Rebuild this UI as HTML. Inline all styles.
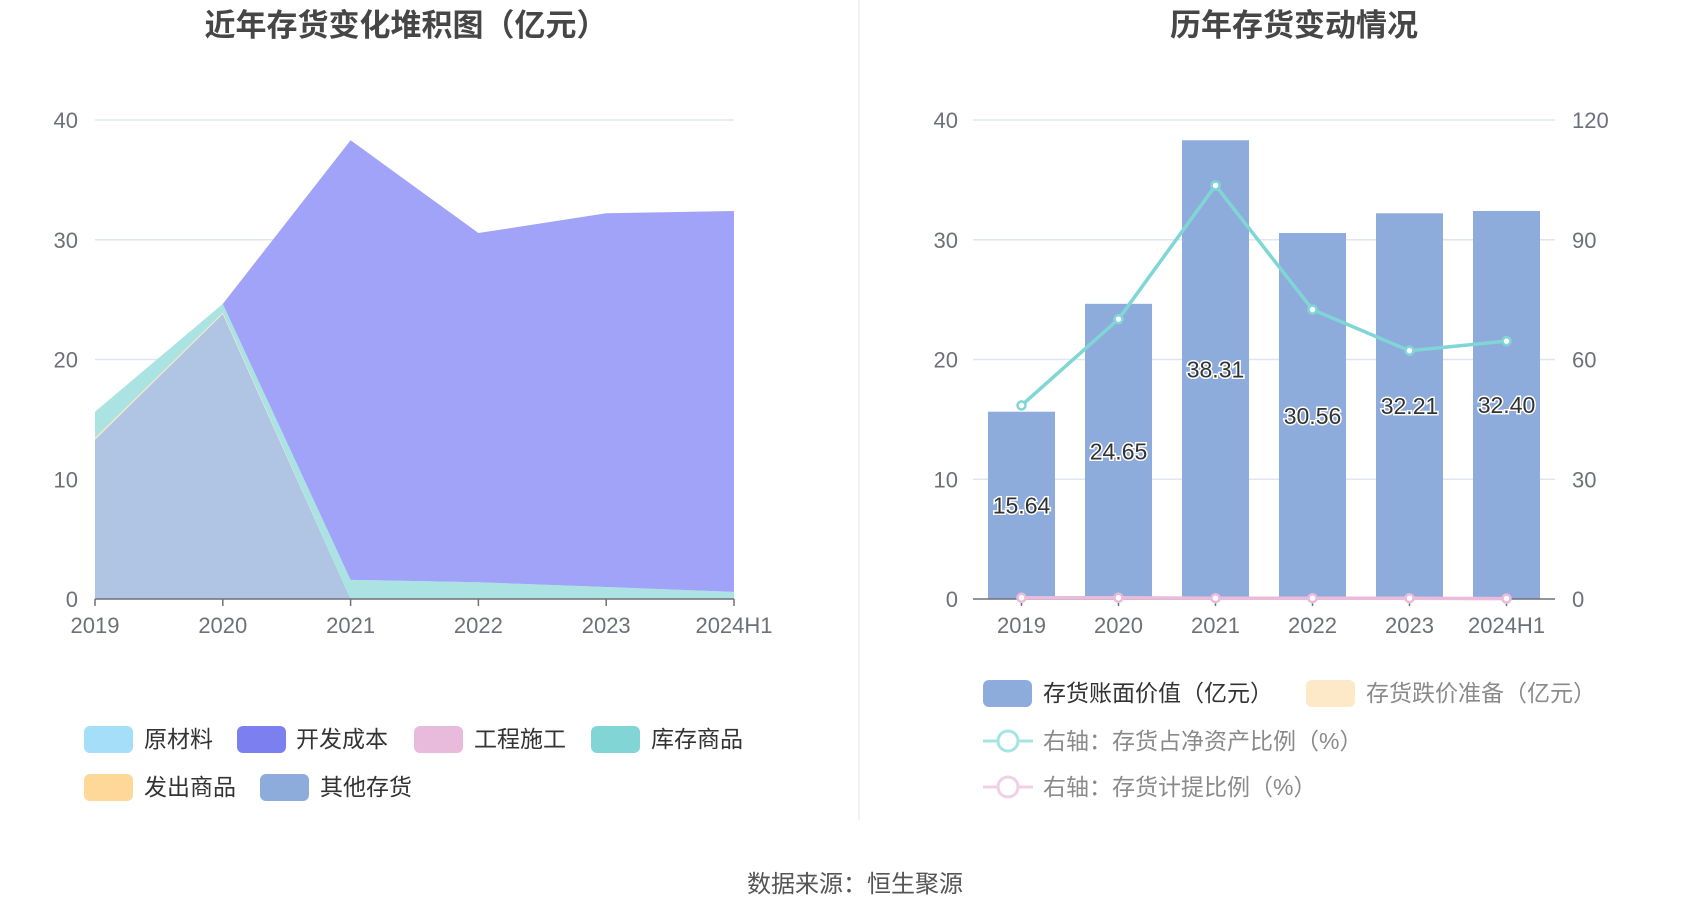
<!DOCTYPE html>
<html><head><meta charset="utf-8"><style>
body{margin:0;background:#fff;}
svg{display:block;font-family:"Liberation Sans","Noto Sans CJK SC",sans-serif;}
</style></head><body>
<svg id="c" width="1700" height="918" viewBox="0 0 1700 918">
<text x="406" y="36" text-anchor="middle" font-size="31" font-weight="bold" fill="#464646">近年存货变化堆积图（亿元）</text>
<text x="1294" y="36" text-anchor="middle" font-size="31" font-weight="bold" fill="#464646">历年存货变动情况</text>
<line x1="859" y1="0" x2="859" y2="820" stroke="#eeeeee" stroke-width="1.5"/>
<g id="left"></g>
<g id="right"></g>
<text x="855" y="892" text-anchor="middle" font-size="24" fill="#555">数据来源：恒生聚源</text>
</svg>
<script>
const categories=["2019","2020","2021","2022","2023","2024H1"];
const otherInv=[13.3,23.8,0,0,0,0];
const shipped=[0.15,0.1,0,0,0,0];
const stockGoods=[2.19,0.75,1.6,1.4,1.0,0.6];
const devCost=[0,0,36.71,29.16,31.21,31.8];
const leftTicks=[0,10,20,30,40];
const bookValue=[15.64,24.65,38.31,30.56,32.21,32.40];
const invRatio=[48.5,70.1,103.6,72.5,62.2,64.6];
const provRatio=[0.3,0.3,0.2,0.2,0.2,0.1];
const rightTicks=[0,30,60,90,120];
const NS="http://www.w3.org/2000/svg";
function mk(p,t,a){const e=document.createElementNS(NS,t);for(const k in a)e.setAttribute(k,a[k]);p.appendChild(e);return e;}
// left chart
const L=document.getElementById('left');
const lx=i=>95+i*(734-95)/5, ly=v=>599-v*(599-120)/40;
leftTicks.forEach(t=>{
 if(t>0){const g=mk(L,'line',{x1:95,x2:734,y1:ly(t),y2:ly(t),stroke:'#e0e6f1','stroke-width':1.5});
 
 }
 const tx=mk(L,'text',{x:78,y:ly(t)+8,'text-anchor':'end','font-size':22,fill:'#6e7079'});tx.textContent=t;
 
 
});
const layers=[[otherInv,'#b0c4e4','other-inventory-area'],[shipped,'#fde6b8','shipped-goods-area'],[stockGoods,'#abe3e3','stock-goods-area'],[devCost,'#a0a3f8','dev-cost-area']];
let base=categories.map(()=>0);
layers.forEach(([arr,col,nm])=>{
 const top=base.map((b,i)=>b+arr[i]);
 let d='M'+top.map((v,i)=>lx(i)+','+ly(v)).join('L');
 for(let i=base.length-1;i>=0;i--)d+='L'+lx(i)+','+ly(base[i]);
 const p=mk(L,'path',{d:d+'Z',fill:col});
 
 
 base=top;
});
mk(L,'line',{x1:95,x2:734,y1:599,y2:599,stroke:'#6e7079','stroke-width':1.5});
categories.forEach((c,i)=>{
 mk(L,'line',{x1:lx(i),x2:lx(i),y1:599,y2:606,stroke:'#6e7079','stroke-width':1.5});
 const t=mk(L,'text',{x:lx(i),y:633,'text-anchor':'middle','font-size':22,fill:'#6e7079'});t.textContent=c;
 
 
});
const lleg=[['原材料','#a5def8',84,144,739],['开发成本','#7b7ff0',237,296,739],['工程施工','#e8bbdc',414,474,739],['库存商品','#82d5d5',591,651,739],['发出商品','#fdd898',84,144,787],['其他存货','#8eacdb',260,320,787]];
lleg.forEach(([n,c,sx,tx,y])=>{
 const g=mk(L,'g',{});
 
 
 mk(g,'rect',{x:sx,y:y-13,width:49,height:27,rx:6,fill:c});
 const t=mk(g,'text',{x:tx,y:y+8,'font-size':23,fill:'#333'});t.textContent=n;
});
// right chart
const R=document.getElementById('right');
const bw=(1555-973)/6, rx=i=>973+bw*(i+0.5), ry=v=>599-v*(599-120)/40, ry2=v=>599-v*(599-120)/120;
rightTicks.forEach((t,k)=>{
 const v=leftTicks[k];
 if(k>0){const g=mk(R,'line',{x1:973,x2:1555,y1:ry(v),y2:ry(v),stroke:'#e0e6f1','stroke-width':1.5});
 
 }
 const a=mk(R,'text',{x:958,y:ry(v)+8,'text-anchor':'end','font-size':22,fill:'#6e7079'});a.textContent=v;
 
 
 const b=mk(R,'text',{x:1572,y:ry2(t)+8,'font-size':22,fill:'#6e7079'});b.textContent=t;
 
 
});
bookValue.forEach((v,i)=>{
 const r=mk(R,'rect',{x:rx(i)-33.5,y:ry(v),width:67,height:599-ry(v),fill:'#8eacdb'});
 
 
});
mk(R,'line',{x1:973,x2:1555,y1:599,y2:599,stroke:'#6e7079','stroke-width':1.5});
categories.forEach((c,i)=>{
 mk(R,'line',{x1:rx(i),x2:rx(i),y1:599,y2:606,stroke:'#6e7079','stroke-width':1.5});
 const t=mk(R,'text',{x:rx(i),y:633,'text-anchor':'middle','font-size':22,fill:'#6e7079'});t.textContent=c;
 
 
});
[[invRatio,'#80d5d5','inventory-ratio-line'],[provRatio,'#ebbbdc','provision-ratio-line']].forEach(([arr,col,nm])=>{
 const p=mk(R,'polyline',{points:arr.map((v,i)=>rx(i)+','+ry2(v)).join(' '),fill:'none',stroke:col,'stroke-width':3.5});
 
 
 arr.forEach((v,i)=>{
  const c=mk(R,'circle',{cx:rx(i),cy:ry2(v),r:4,fill:'#fff',stroke:col,'stroke-width':2.5});
  
  
 });
});
bookValue.forEach((v,i)=>{
 const t=mk(R,'text',{x:rx(i),y:ry(v/2)+8,'text-anchor':'middle','font-size':23,fill:'#333',stroke:'#fff','stroke-width':3,'paint-order':'stroke'});
 t.textContent=v.toFixed(2);
 
 
});
const rleg=[['存货账面价值（亿元）','#8eacdb',983,1043,693,'rect'],['存货跌价准备（亿元）','#fde8c8',1306,1366,693,'rect'],['右轴：存货占净资产比例（%）','#a6e3e3',983,1043,741,'line'],['右轴：存货计提比例（%）','#f0d0e6',983,1043,787,'line']];
rleg.forEach(([n,c,sx,tx,y,ty],k)=>{
 const g=mk(R,'g',{});
 
 
 if(ty==='rect')mk(g,'rect',{x:sx,y:y-13,width:49,height:27,rx:6,fill:c});
 else{mk(g,'line',{x1:sx,x2:sx+50,y1:y,y2:y,stroke:c,'stroke-width':3});mk(g,'circle',{cx:sx+25,cy:y,r:10,fill:'#fff',stroke:c,'stroke-width':3});}
 const t=mk(g,'text',{x:tx,y:y+8,'font-size':23,fill:k===0?'#333':'#8a8a8a'});t.textContent=n;
});
</script>
</body></html>
